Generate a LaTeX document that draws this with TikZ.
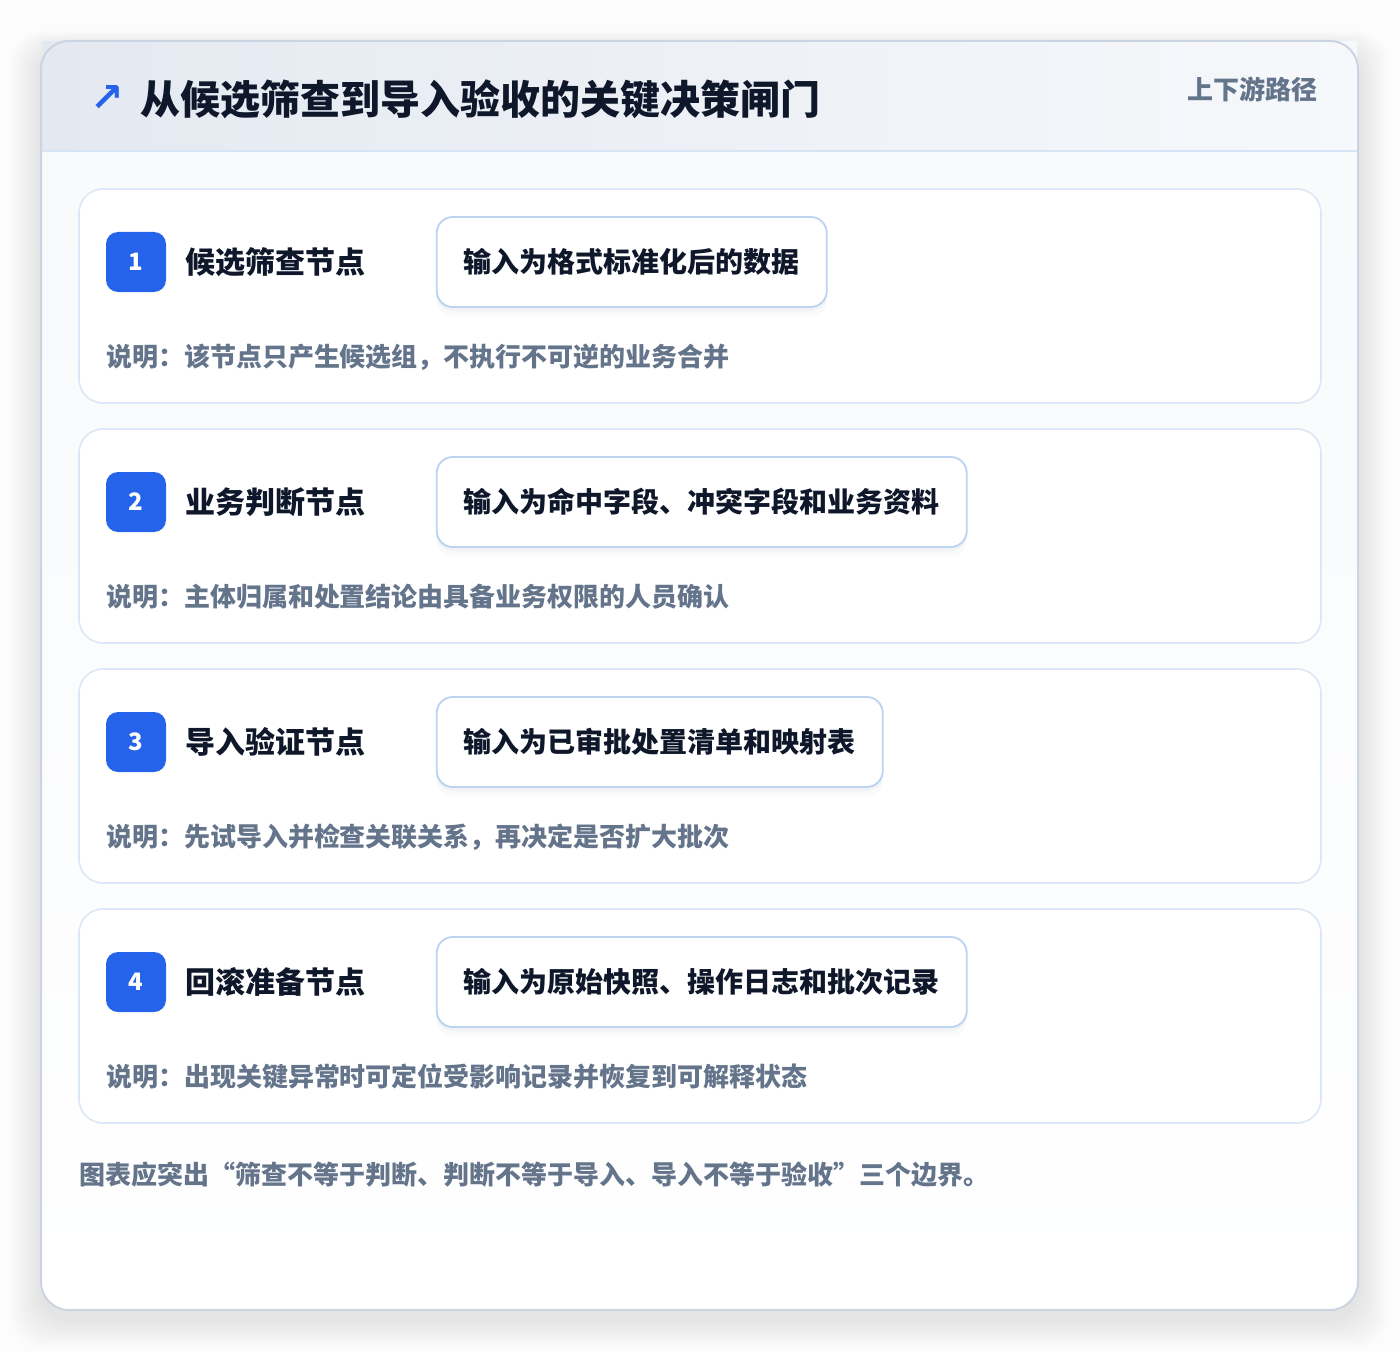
\documentclass[tikz,border=0pt]{standalone}
\usepackage{fontspec}
\setmainfont{Noto Sans CJK SC}
\newfontfamily\symfont{DejaVu Sans}
\usetikzlibrary{positioning}

\definecolor{gatebg}{HTML}{FCFCFD}
\definecolor{gatebody}{HTML}{F7F9FC}
\definecolor{gatehead}{HTML}{E4E9F1}
\definecolor{gatehead2}{HTML}{F6F8FB}
\definecolor{gaterule}{HTML}{D6E4F5}
\definecolor{gateframe}{HTML}{CBD5E1}
\definecolor{gatecard}{HTML}{DCE8F7}
\definecolor{gatebox}{HTML}{BCD4F2}
\definecolor{gateblue}{HTML}{2563EB}
\definecolor{gateink}{HTML}{0F172A}
\definecolor{gatemuted}{HTML}{64748B}
\definecolor{gateshade}{HTML}{64748B}

\tikzset{
  stagecard/.style={draw=gatecard, line width=1.2pt, fill=white, rounded corners=18pt},
  badge/.style={fill=gateblue, rounded corners=9pt, minimum size=45pt, inner sep=0pt,
    text=white, font=\bfseries\fontsize{18}{18}\selectfont},
  stagename/.style={anchor=west, inner sep=0pt, text=gateink,
    font=\bfseries\fontsize{22.5}{22.5}\selectfont},
  inputbox/.style={draw=gatebox, line width=1.4pt, fill=white, rounded corners=12pt,
    minimum height=67.5pt, inner xsep=20.25pt, text=gateink,
    font=\bfseries\fontsize{21}{21}\selectfont,
    preaction={fill=gateshade, fill opacity=0.035, transform canvas={yshift=-7pt}},
    preaction={fill=gateshade, fill opacity=0.05, transform canvas={yshift=-3pt}}},
  note/.style={inner sep=0pt, text=gatemuted, font=\bfseries\fontsize{19.5}{19.5}\selectfont}
}

\begin{document}
\begin{tikzpicture}[x=0.75pt, y=-0.75pt]
  \fill[gatebg] (0,0) rectangle (1400,1352);
  \useasboundingbox (0,0) rectangle (1400,1352);
  % soft shadow of the sheet
  \foreach \k in {1,...,12}
    \fill[black, fill opacity=0.007, rounded corners=24pt]
      (41-2.5*\k,49-1.5*\k) rectangle (1358+2.5*\k,1318+2.5*\k);
  \fill[top color=gatebody, bottom color=white, rounded corners=21pt] (41,41) rectangle (1358,1310);
  \fill[left color=gatehead, right color=gatehead2] (42,42) rectangle (1357,151);
  \draw[gaterule, line width=1.2pt] (42,151) -- (1357,151);
  \draw[gateframe, line width=1.5pt, rounded corners=21pt] (41,41) rectangle (1358,1310);

  % header
  \node[anchor=west, inner sep=0pt, text=gateink, font=\bfseries\fontsize{30}{30}\selectfont]
    (gatetitle) at (140,99) {从候选筛查到导入验收的关键决策闸门};
  \node[left=12pt of gatetitle, inner sep=0pt, text=gateblue, font=\symfont\bfseries\fontsize{30}{30}\selectfont]
    (gatearrow) {↗};
  \node[anchor=east, note] (gatepath) at (1318,89) {上下游路径};

  % stage 1
  \draw[stagecard] (79,189) rectangle (1321,403);
  \node[badge] (s1num) at (136,262) {1};
  \node[stagename, right=14.25pt of s1num] (s1name) {候选筛查节点};
  \node[inputbox, right=52.5pt of s1name] (s1input) {输入为格式标准化后的数据};
  \node[note, below=71.25pt of s1num.west, anchor=west] (s1note)
    {说明：该节点只产生候选组，不执行不可逆的业务合并};

  % stage 2
  \draw[stagecard] (79,429) rectangle (1321,643);
  \node[badge] (s2num) at (136,502) {2};
  \node[stagename, right=14.25pt of s2num] (s2name) {业务判断节点};
  \node[inputbox, right=52.5pt of s2name] (s2input) {输入为命中字段、冲突字段和业务资料};
  \node[note, below=71.25pt of s2num.west, anchor=west] (s2note)
    {说明：主体归属和处置结论由具备业务权限的人员确认};

  % stage 3
  \draw[stagecard] (79,669) rectangle (1321,883);
  \node[badge] (s3num) at (136,742) {3};
  \node[stagename, right=14.25pt of s3num] (s3name) {导入验证节点};
  \node[inputbox, right=52.5pt of s3name] (s3input) {输入为已审批处置清单和映射表};
  \node[note, below=71.25pt of s3num.west, anchor=west] (s3note)
    {说明：先试导入并检查关联关系，再决定是否扩大批次};

  % stage 4
  \draw[stagecard] (79,909) rectangle (1321,1123);
  \node[badge] (s4num) at (136,982) {4};
  \node[stagename, right=14.25pt of s4num] (s4name) {回滚准备节点};
  \node[inputbox, right=52.5pt of s4name] (s4input) {输入为原始快照、操作日志和批次记录};
  \node[note, below=71.25pt of s4num.west, anchor=west] (s4note)
    {说明：出现关键异常时可定位受影响记录并恢复到可解释状态};

  \node[note, anchor=west] (gatefoot) at (79,1175)
    {图表应突出“筛查不等于判断、判断不等于导入、导入不等于验收”三个边界。};
\end{tikzpicture}
\end{document}
